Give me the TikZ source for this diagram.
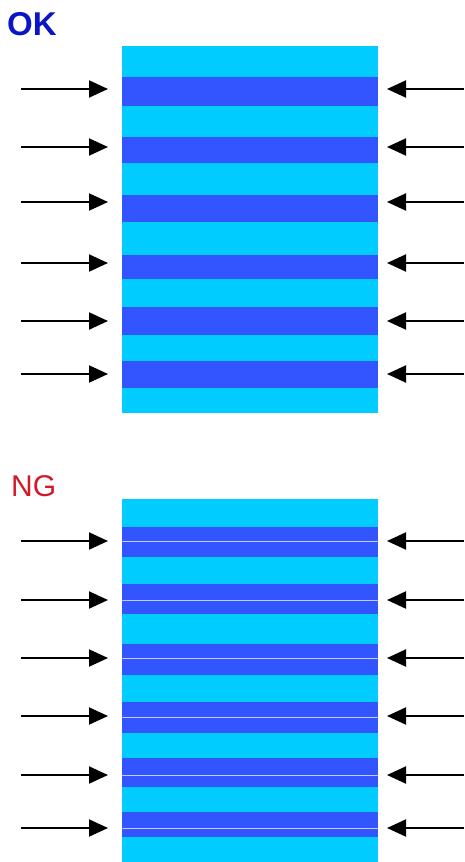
\documentclass[tikz,border=0pt]{standalone}
\usepackage{fontspec}
\setmainfont{Liberation Sans}
\usetikzlibrary{arrows.meta}
\definecolor{lightc}{RGB}{0,204,255}
\definecolor{darkb}{RGB}{51,85,255}
\definecolor{seam}{RGB}{196,204,255}
\definecolor{okblue}{RGB}{10,20,200}
\definecolor{ngred}{RGB}{210,25,40}
\begin{document}
\begin{tikzpicture}[x=1pt,y=-1pt,
  arr/.style={line width=2pt,-{Triangle[length=19pt,width=17pt]}},
  lbl/.style={inner sep=0pt,anchor=base west}]
\useasboundingbox (0,0) rectangle (464,862);
% titles
\node[lbl,text=okblue,font=\fontsize{33}{33}\selectfont\bfseries] (ok) at (7,35) {OK};
\node[lbl,text=ngred,font=\fontsize{30}{30}\selectfont] (ng) at (11,496) {NG};
% OK block
\fill[lightc] (122,46) rectangle (378,413);
\foreach \a/\b in {77/106,137/163,195/222,255/279,307/335,361/388}
  \fill[darkb] (122,\a) rectangle (378,\b);
% NG block
\fill[lightc] (122,499) rectangle (378,862);
\foreach \a/\b/\s in {527/557/541,584/614/600,644/675/658,702/733/717,758/787/775,812/837/828}{
  \fill[darkb] (122,\a) rectangle (378,\b);
  \draw[seam,line width=1pt] (122,\s) -- (378,\s);
}
% arrows
\foreach \y [count=\i] in {89,147,202,263,321,374}{
  \coordinate (okLs\i) at (21,\y);
  \coordinate (okLe\i) at (108,\y);
  \coordinate (okRs\i) at (464,\y);
  \coordinate (okRe\i) at (387,\y);
  \draw[arr] (okLs\i) -- (okLe\i);
  \draw[arr] (okRs\i) -- (okRe\i);
}
\foreach \y [count=\i] in {541,600,658,716,775,828}{
  \coordinate (ngLs\i) at (21,\y);
  \coordinate (ngLe\i) at (108,\y);
  \coordinate (ngRs\i) at (464,\y);
  \coordinate (ngRe\i) at (387,\y);
  \draw[arr] (ngLs\i) -- (ngLe\i);
  \draw[arr] (ngRs\i) -- (ngRe\i);
}
\end{tikzpicture}
\end{document}
